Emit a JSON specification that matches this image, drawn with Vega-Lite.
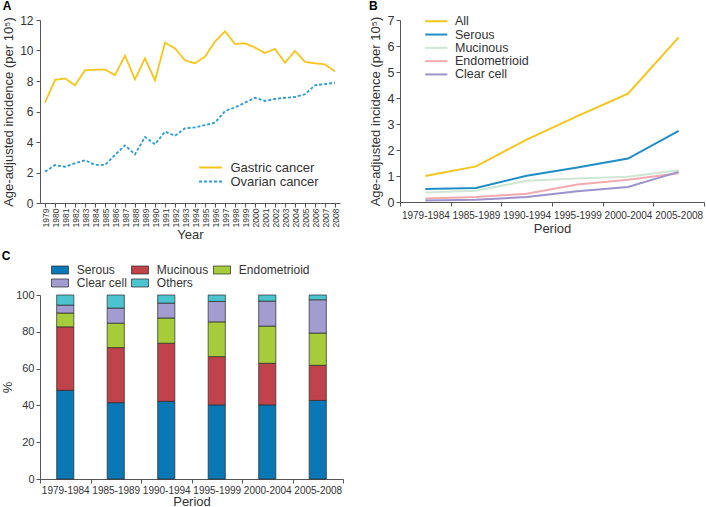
{
  "$schema": "https://vega.github.io/schema/vega-lite/v6.json",
  "padding": {"left": 1, "top": 0, "right": 0, "bottom": 0},
  "background": "white",
  "config": {
    "font": "Liberation Sans",
    "view": {"stroke": null},
    "axis": {"grid": false, "domainColor": "#555", "tickColor": "#555", "labelColor": "#333", "titleColor": "#333", "titleFontWeight": "normal", "titleFontSize": 13, "labelFontSize": 12, "tickSize": 4},
    "title": {"fontSize": 12, "fontWeight": "bold", "anchor": "start", "frame": "bounds", "color": "#000", "offset": 1},
    "legend": {"labelFontSize": 12.5, "labelColor": "#333", "title": null, "padding": 0}
  },
  "resolve": {"scale": {"color": "independent", "strokeDash": "independent"}, "legend": {"color": "independent", "strokeDash": "independent"}},
  "spacing": 8,
  "vconcat": [
    {
      "spacing": 29,
      "resolve": {"scale": {"color": "independent", "strokeDash": "independent"}, "legend": {"color": "independent", "strokeDash": "independent"}},
      "hconcat": [
        {
          "title": "A",
          "width": 300,
          "height": 183,
          "data": {"values": [
            {"year": "1979", "series": "Gastric cancer", "value": 6.58},
            {"year": "1980", "series": "Gastric cancer", "value": 8.07},
            {"year": "1981", "series": "Gastric cancer", "value": 8.17},
            {"year": "1982", "series": "Gastric cancer", "value": 7.72},
            {"year": "1983", "series": "Gastric cancer", "value": 8.7},
            {"year": "1984", "series": "Gastric cancer", "value": 8.74},
            {"year": "1985", "series": "Gastric cancer", "value": 8.75},
            {"year": "1986", "series": "Gastric cancer", "value": 8.39},
            {"year": "1987", "series": "Gastric cancer", "value": 9.66},
            {"year": "1988", "series": "Gastric cancer", "value": 8.11},
            {"year": "1989", "series": "Gastric cancer", "value": 9.49},
            {"year": "1990", "series": "Gastric cancer", "value": 8.04},
            {"year": "1991", "series": "Gastric cancer", "value": 10.51},
            {"year": "1992", "series": "Gastric cancer", "value": 10.14},
            {"year": "1993", "series": "Gastric cancer", "value": 9.36},
            {"year": "1994", "series": "Gastric cancer", "value": 9.16},
            {"year": "1995", "series": "Gastric cancer", "value": 9.6},
            {"year": "1996", "series": "Gastric cancer", "value": 10.58},
            {"year": "1997", "series": "Gastric cancer", "value": 11.26},
            {"year": "1998", "series": "Gastric cancer", "value": 10.43},
            {"year": "1999", "series": "Gastric cancer", "value": 10.47},
            {"year": "2000", "series": "Gastric cancer", "value": 10.19},
            {"year": "2001", "series": "Gastric cancer", "value": 9.84},
            {"year": "2002", "series": "Gastric cancer", "value": 10.1},
            {"year": "2003", "series": "Gastric cancer", "value": 9.2},
            {"year": "2004", "series": "Gastric cancer", "value": 9.97},
            {"year": "2005", "series": "Gastric cancer", "value": 9.25},
            {"year": "2006", "series": "Gastric cancer", "value": 9.16},
            {"year": "2007", "series": "Gastric cancer", "value": 9.09},
            {"year": "2008", "series": "Gastric cancer", "value": 8.63},
            {"year": "1979", "series": "Ovarian cancer", "value": 2.05},
            {"year": "1980", "series": "Ovarian cancer", "value": 2.49},
            {"year": "1981", "series": "Ovarian cancer", "value": 2.38},
            {"year": "1982", "series": "Ovarian cancer", "value": 2.6},
            {"year": "1983", "series": "Ovarian cancer", "value": 2.8},
            {"year": "1984", "series": "Ovarian cancer", "value": 2.5},
            {"year": "1985", "series": "Ovarian cancer", "value": 2.5},
            {"year": "1986", "series": "Ovarian cancer", "value": 3.15},
            {"year": "1987", "series": "Ovarian cancer", "value": 3.78},
            {"year": "1988", "series": "Ovarian cancer", "value": 3.19},
            {"year": "1989", "series": "Ovarian cancer", "value": 4.33},
            {"year": "1990", "series": "Ovarian cancer", "value": 3.85},
            {"year": "1991", "series": "Ovarian cancer", "value": 4.68},
            {"year": "1992", "series": "Ovarian cancer", "value": 4.41},
            {"year": "1993", "series": "Ovarian cancer", "value": 4.9},
            {"year": "1994", "series": "Ovarian cancer", "value": 4.96},
            {"year": "1995", "series": "Ovarian cancer", "value": 5.11},
            {"year": "1996", "series": "Ovarian cancer", "value": 5.27},
            {"year": "1997", "series": "Ovarian cancer", "value": 6.03},
            {"year": "1998", "series": "Ovarian cancer", "value": 6.27},
            {"year": "1999", "series": "Ovarian cancer", "value": 6.58},
            {"year": "2000", "series": "Ovarian cancer", "value": 6.9},
            {"year": "2001", "series": "Ovarian cancer", "value": 6.69},
            {"year": "2002", "series": "Ovarian cancer", "value": 6.82},
            {"year": "2003", "series": "Ovarian cancer", "value": 6.9},
            {"year": "2004", "series": "Ovarian cancer", "value": 6.95},
            {"year": "2005", "series": "Ovarian cancer", "value": 7.13},
            {"year": "2006", "series": "Ovarian cancer", "value": 7.72},
            {"year": "2007", "series": "Ovarian cancer", "value": 7.8},
            {"year": "2008", "series": "Ovarian cancer", "value": 7.89}
          ]},
          "mark": {"type": "line", "strokeWidth": 1.8},
          "encoding": {
            "x": {"field": "year", "type": "ordinal", "scale": {"type": "point", "padding": 0.5}, "axis": {"title": "Year", "labelAngle": -90, "labelFontSize": 8.5, "labelPadding": 1, "titlePadding": 2}},
            "y": {"field": "value", "type": "quantitative", "scale": {"domain": [0, 12]}, "axis": {"values": [0, 2, 4, 6, 8, 10, 12], "title": "Age-adjusted incidence (per 10⁵)", "titlePadding": 4, "labelPadding": 3}},
            "color": {"field": "series", "type": "nominal", "scale": {"domain": ["Gastric cancer", "Ovarian cancer"], "range": ["#F5C519", "#2A9BD5"]}, "legend": {"orient": "none", "legendX": 164, "legendY": 141, "symbolType": "M-2.7,0H2.7", "symbolSize": 72, "symbolStrokeWidth": 2, "labelOffset": 13.5, "rowPadding": 0, "labelFontSize": 13}},
            "strokeDash": {"field": "series", "type": "nominal", "scale": {"domain": ["Gastric cancer", "Ovarian cancer"], "range": [[1, 0], [3, 2]]}, "legend": {"orient": "none", "legendX": 164, "legendY": 141, "symbolType": "M-2.7,0H2.7", "symbolSize": 72, "symbolStrokeWidth": 2, "labelOffset": 13.5, "rowPadding": 0, "labelFontSize": 13}}
          }
        },
        {
          "title": "B",
          "width": 304,
          "height": 182,
          "data": {"values": [
            {"period": "1979-1984", "type": "All", "value": 1.0},
            {"period": "1985-1989", "type": "All", "value": 1.37},
            {"period": "1990-1994", "type": "All", "value": 2.4},
            {"period": "1995-1999", "type": "All", "value": 3.3},
            {"period": "2000-2004", "type": "All", "value": 4.17},
            {"period": "2005-2008", "type": "All", "value": 6.33},
            {"period": "1979-1984", "type": "Serous", "value": 0.5},
            {"period": "1985-1989", "type": "Serous", "value": 0.54},
            {"period": "1990-1994", "type": "Serous", "value": 1.01},
            {"period": "1995-1999", "type": "Serous", "value": 1.33},
            {"period": "2000-2004", "type": "Serous", "value": 1.67},
            {"period": "2005-2008", "type": "Serous", "value": 2.74},
            {"period": "1979-1984", "type": "Mucinous", "value": 0.37},
            {"period": "1985-1989", "type": "Mucinous", "value": 0.43},
            {"period": "1990-1994", "type": "Mucinous", "value": 0.82},
            {"period": "1995-1999", "type": "Mucinous", "value": 0.9},
            {"period": "2000-2004", "type": "Mucinous", "value": 0.97},
            {"period": "2005-2008", "type": "Mucinous", "value": 1.22},
            {"period": "1979-1984", "type": "Endometrioid", "value": 0.13},
            {"period": "1985-1989", "type": "Endometrioid", "value": 0.19},
            {"period": "1990-1994", "type": "Endometrioid", "value": 0.32},
            {"period": "1995-1999", "type": "Endometrioid", "value": 0.67},
            {"period": "2000-2004", "type": "Endometrioid", "value": 0.86},
            {"period": "2005-2008", "type": "Endometrioid", "value": 1.11},
            {"period": "1979-1984", "type": "Clear cell", "value": 0.06},
            {"period": "1985-1989", "type": "Clear cell", "value": 0.09},
            {"period": "1990-1994", "type": "Clear cell", "value": 0.19},
            {"period": "1995-1999", "type": "Clear cell", "value": 0.41},
            {"period": "2000-2004", "type": "Clear cell", "value": 0.58},
            {"period": "2005-2008", "type": "Clear cell", "value": 1.16}
          ]},
          "mark": {"type": "line", "strokeWidth": 2},
          "encoding": {
            "x": {"field": "period", "type": "ordinal", "scale": {"type": "band", "paddingInner": 0, "paddingOuter": 0}, "axis": {"title": "Period", "labelAngle": 0, "tickBand": "extent", "labelFontSize": 10, "labelPadding": 4, "titlePadding": 2}},
            "y": {"field": "value", "type": "quantitative", "scale": {"domain": [0, 7]}, "axis": {"values": [0, 1, 2, 3, 4, 5, 6, 7], "title": "Age-adjusted incidence (per 10⁵)", "labelFontSize": 12.5, "titlePadding": 5, "labelPadding": 2}},
            "color": {"field": "type", "type": "nominal", "sort": ["All", "Serous", "Mucinous", "Endometrioid", "Clear cell"], "scale": {"domain": ["All", "Serous", "Mucinous", "Endometrioid", "Clear cell"], "range": ["#F5C519", "#1F8DC6", "#CFE6D3", "#F2AAB0", "#9C93CC"]}, "legend": {"orient": "none", "legendX": 30, "legendY": -5, "symbolType": "M-2.6,0H2.6", "symbolSize": 72, "symbolStrokeWidth": 2, "labelOffset": 12.5, "rowPadding": 0.3, "labelFontSize": 12.5}}
          }
        }
      ]
    },
    {
      "title": "C",
      "width": 303,
      "height": 184,
      "data": {"values": [
        {"period": "1979-1984", "type": "Serous", "pct": 48.2},
        {"period": "1979-1984", "type": "Mucinous", "pct": 34.5},
        {"period": "1979-1984", "type": "Endometrioid", "pct": 7.5},
        {"period": "1979-1984", "type": "Clear cell", "pct": 4.3},
        {"period": "1979-1984", "type": "Others", "pct": 5.5},
        {"period": "1985-1989", "type": "Serous", "pct": 41.5},
        {"period": "1985-1989", "type": "Mucinous", "pct": 29.9},
        {"period": "1985-1989", "type": "Endometrioid", "pct": 13.3},
        {"period": "1985-1989", "type": "Clear cell", "pct": 8.2},
        {"period": "1985-1989", "type": "Others", "pct": 7.1},
        {"period": "1990-1994", "type": "Serous", "pct": 42.2},
        {"period": "1990-1994", "type": "Mucinous", "pct": 31.6},
        {"period": "1990-1994", "type": "Endometrioid", "pct": 13.7},
        {"period": "1990-1994", "type": "Clear cell", "pct": 8.1},
        {"period": "1990-1994", "type": "Others", "pct": 4.4},
        {"period": "1995-1999", "type": "Serous", "pct": 40.3},
        {"period": "1995-1999", "type": "Mucinous", "pct": 26.2},
        {"period": "1995-1999", "type": "Endometrioid", "pct": 18.9},
        {"period": "1995-1999", "type": "Clear cell", "pct": 11.1},
        {"period": "1995-1999", "type": "Others", "pct": 3.5},
        {"period": "2000-2004", "type": "Serous", "pct": 40.3},
        {"period": "2000-2004", "type": "Mucinous", "pct": 22.6},
        {"period": "2000-2004", "type": "Endometrioid", "pct": 20.2},
        {"period": "2000-2004", "type": "Clear cell", "pct": 13.6},
        {"period": "2000-2004", "type": "Others", "pct": 3.3},
        {"period": "2005-2008", "type": "Serous", "pct": 42.7},
        {"period": "2005-2008", "type": "Mucinous", "pct": 19.1},
        {"period": "2005-2008", "type": "Endometrioid", "pct": 17.5},
        {"period": "2005-2008", "type": "Clear cell", "pct": 18.1},
        {"period": "2005-2008", "type": "Others", "pct": 2.6}
      ]},
      "transform": [{"calculate": "indexof(['Serous', 'Mucinous', 'Endometrioid', 'Clear cell', 'Others'], datum.type)", "as": "stackOrder"}],
      "mark": {"type": "bar", "stroke": "#2a2a2a", "strokeWidth": 0.7, "width": {"band": 0.34}},
      "encoding": {
        "x": {"field": "period", "type": "ordinal", "scale": {"type": "band", "paddingInner": 0, "paddingOuter": 0}, "axis": {"title": "Period", "labelAngle": 0, "tickBand": "extent", "labelFontSize": 10, "labelPadding": 2, "titlePadding": 0}},
        "y": {"field": "pct", "type": "quantitative", "stack": "zero", "scale": {"domain": [0, 100]}, "axis": {"values": [0, 20, 40, 60, 80, 100], "title": "%", "labelFontSize": 11, "titlePadding": 1, "labelPadding": 2}},
        "order": {"field": "stackOrder", "type": "quantitative", "sort": "ascending"},
        "color": {"field": "type", "type": "nominal", "sort": ["Serous", "Mucinous", "Endometrioid", "Clear cell", "Others"], "scale": {"domain": ["Serous", "Mucinous", "Endometrioid", "Clear cell", "Others"], "range": ["#0A78B5", "#C0424A", "#A6CC3A", "#A29CD0", "#4CC4D0"]}, "legend": {"orient": "none", "legendX": 14, "legendY": -31, "columns": 3, "direction": "horizontal", "columnPadding": 3, "rowPadding": 1, "symbolType": "M-2,-0.95H2V0.95H-2Z", "symbolSize": 72, "symbolStrokeColor": "#2a2a2a", "symbolStrokeWidth": 0.7, "labelOffset": 10.8, "labelFontSize": 12}}
      }
    }
  ]
}
